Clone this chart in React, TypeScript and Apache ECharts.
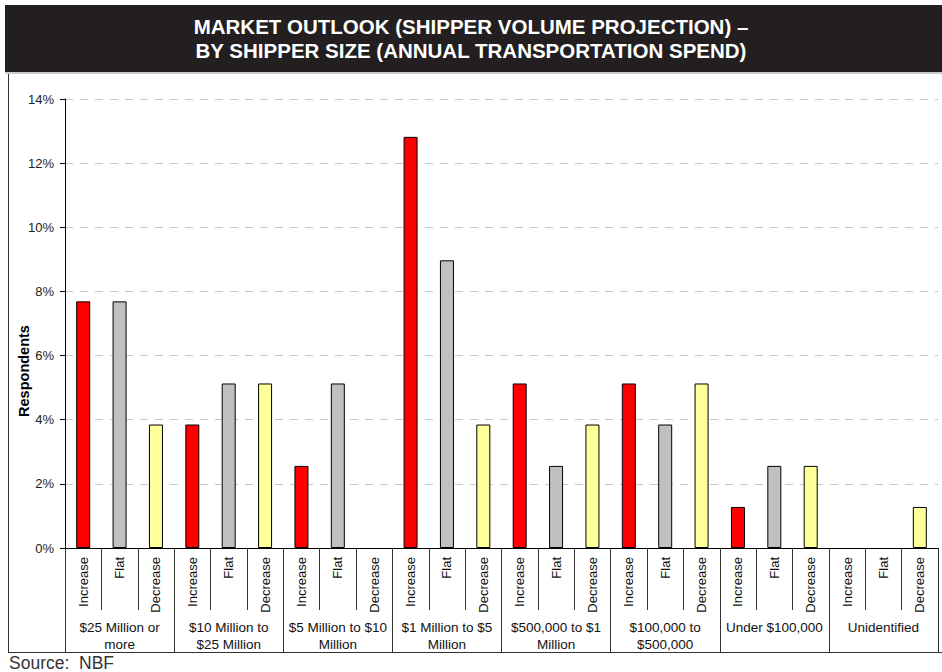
import React, { useEffect, useRef } from "react";
import * as echarts from "echarts";

const groups = [
  "$25 Million or\nmore",
  "$10 Million to\n$25 Million",
  "$5 Million to $10\nMillion",
  "$1 Million to $5\nMillion",
  "$500,000 to $1\nMillion",
  "$100,000 to\n$500,000",
  "Under $100,000",
  "Unidentified",
];
const outlooks = ["Increase", "Flat", "Decrease"];
const increase = [7.69, 3.85, 2.56, 12.82, 5.13, 5.13, 1.28, 0];
const flat = [7.69, 5.13, 5.13, 8.97, 2.56, 3.85, 2.56, 0];
const decrease = [3.85, 5.13, 0, 3.85, 3.85, 5.13, 2.56, 1.28];
const yTicks = [0, 2, 4, 6, 8, 10, 12, 14];
const colors = ["#FF0000", "#C0C0C0", "#FFFF99"];

const FONT = "'Liberation Sans', Arial, sans-serif";

export default function App() {
  const ref = useRef<HTMLDivElement>(null);
  useEffect(() => {
    if (!ref.current) return;
    const chart = echarts.init(ref.current, null, { renderer: "svg" });
    const subCats: string[] = [];
    groups.forEach(() => outlooks.forEach((o) => subCats.push(o)));
    const seriesVals = [increase, flat, decrease];
    const series = seriesVals.map((vals, si) => {
      const data: any[] = [];
      groups.forEach((_, gi) => {
        outlooks.forEach((_, oi) => {
          data.push(oi === si && vals[gi] > 0 ? vals[gi] : "-");
        });
      });
      return {
        name: outlooks[si],
        type: "bar",
        xAxisIndex: 0,
        barWidth: 14,
        barGap: "-100%",
        data,
        itemStyle: { color: colors[si], borderColor: "#000", borderWidth: 1 },
      };
    });
    chart.setOption({
      animation: false,
      textStyle: { fontFamily: FONT },
      grid: {
        left: 65,
        right: 4,
        top: 99,
        bottom: 124,
        containLabel: false,
        outerBoundsMode: "none",
      },
      xAxis: [
        {
          type: "category",
          data: subCats,
          axisLine: { show: true, lineStyle: { color: "#000", width: 1 } },
          axisTick: {
            show: true,
            interval: 0,
            length: 62,
            lineStyle: { color: "#333" },
          },
          axisLabel: {
            interval: 0,
            rotate: 90,
            fontSize: 13,
            color: "#111",
            margin: 9,
            fontFamily: FONT,
          },
          splitLine: { show: false },
        },
        {
          type: "category",
          position: "bottom",
          data: groups,
          axisLine: { show: false },
          axisTick: {
            show: true,
            interval: 0,
            length: 104,
            lineStyle: { color: "#333" },
          },
          axisLabel: {
            interval: 0,
            fontSize: 13.5,
            lineHeight: 17,
            color: "#111",
            margin: 71,
            fontFamily: FONT,
          },
          splitLine: { show: false },
        },
      ],
      yAxis: {
        type: "value",
        min: 0,
        max: yTicks[yTicks.length - 1],
        interval: 2,
        axisLine: { show: true, lineStyle: { color: "#000" } },
        axisTick: { show: true, length: 5, lineStyle: { color: "#000" } },
        axisLabel: {
          formatter: "{value}%",
          fontSize: 13,
          color: "#222",
          margin: 11,
          fontFamily: FONT,
        },
        splitLine: {
          show: true,
          lineStyle: { color: "#C8C8C8", type: [8, 7], width: 1 },
        },
      },
      series,
      graphic: [
        {
          type: "rect",
          shape: { x: 5, y: 5, width: 937, height: 67 },
          style: { fill: "#231F20" },
          z: 0,
        },
        {
          type: "line",
          shape: { x1: 5, y1: 73, x2: 942, y2: 73 },
          style: { stroke: "#999", lineWidth: 1 },
        },
        {
          type: "text",
          x: 471,
          y: 38.5,
          style: {
            text: "MARKET OUTLOOK (SHIPPER VOLUME PROJECTION) –\nBY SHIPPER SIZE (ANNUAL TRANSPORTATION SPEND)",
            fill: "#fff",
            font: `bold 20.5px ${FONT}`,
            lineHeight: 24,
            align: "center",
            verticalAlign: "middle",
          },
        },
        {
          type: "text",
          x: 24,
          y: 371,
          rotation: Math.PI / 2,
          style: {
            text: "Respondents",
            fill: "#000",
            font: `bold 14.5px ${FONT}`,
            align: "center",
            verticalAlign: "middle",
          },
        },
        {
          type: "line",
          shape: { x1: 8.5, y1: 74, x2: 8.5, y2: 652 },
          style: { stroke: "#333", lineWidth: 1 },
        },
        {
          type: "line",
          shape: { x1: 8, y1: 652.5, x2: 942, y2: 652.5 },
          style: { stroke: "#333", lineWidth: 1 },
        },
        {
          type: "text",
          x: 9,
          y: 663,
          style: {
            text: "Source:  NBF",
            fill: "#333",
            font: `17.5px ${FONT}`,
            align: "left",
            verticalAlign: "middle",
          },
        },
      ],
    });
    return () => chart.dispose();
  }, []);
  return (
    <div
      ref={ref}
      style={{ position: "absolute", left: 0, top: 0, width: 942, height: 672, background: "#fff" }}
    />
  );
}
